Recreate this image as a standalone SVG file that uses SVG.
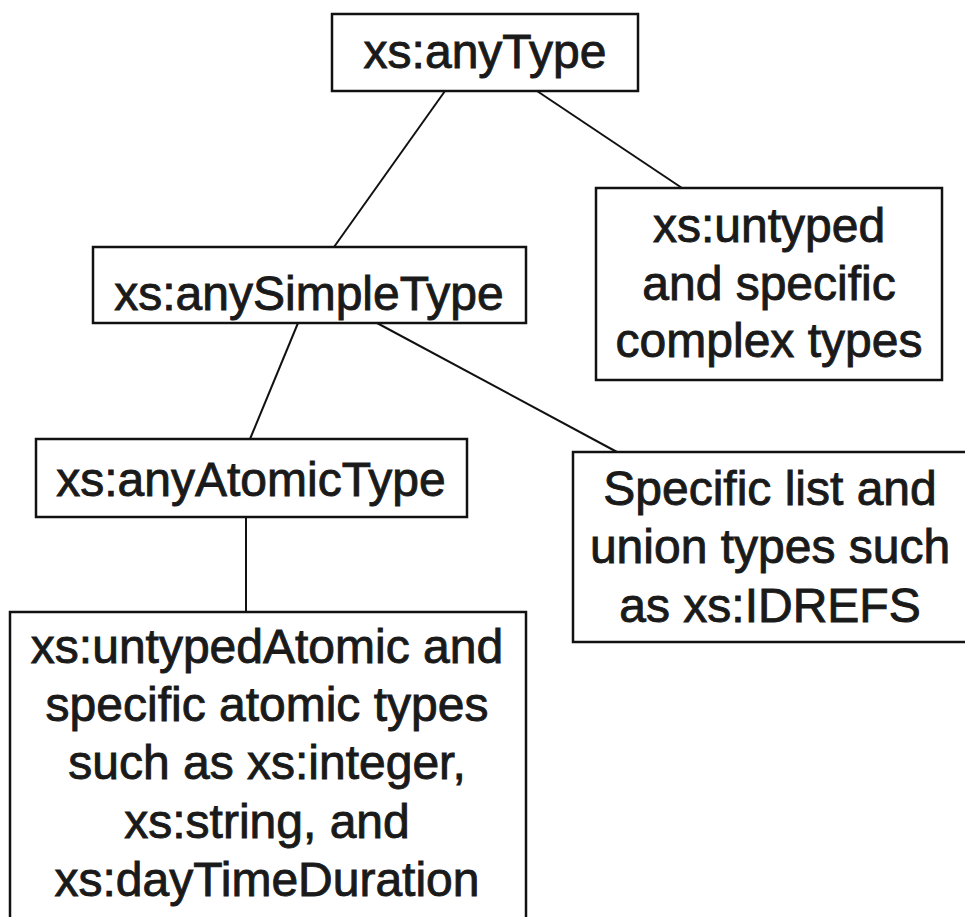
<svg xmlns="http://www.w3.org/2000/svg" width="965" height="917" viewBox="0 0 965 917">
<style>
.box{fill:#fff;stroke:#111;stroke-width:2.5}
.lbl{font-family:"Liberation Sans",Arial,sans-serif;font-size:48px;fill:#1a1a1a;stroke:#1a1a1a;stroke-width:0.9;text-anchor:middle}
.edge{stroke:#111;stroke-width:2;fill:none}
</style>
<rect width="965" height="917" fill="#fff"/>
<g id="connectors">
<line class="edge" x1="445" y1="91" x2="334" y2="247"/>
<line class="edge" x1="537" y1="91" x2="682" y2="188"/>
<line class="edge" x1="298" y1="323" x2="250" y2="439"/>
<line class="edge" x1="377" y1="323" x2="617" y2="452"/>
<line class="edge" x1="246" y1="517" x2="246" y2="612"/>
</g>
<g id="anyType">
<rect class="box" x="332" y="14" width="306" height="77"/>
<text class="lbl" x="485" y="68">xs:anyType</text>
</g>
<g id="untyped">
<rect class="box" x="596" y="188" width="346" height="192"/>
<text class="lbl" x="769" y="242">xs:untyped</text>
<text class="lbl" x="769" y="300">and specific</text>
<text class="lbl" x="769" y="357">complex types</text>
</g>
<g id="anySimpleType">
<rect class="box" x="93" y="247" width="433" height="76"/>
<text class="lbl" x="309" y="310">xs:anySimpleType</text>
</g>
<g id="anyAtomicType">
<rect class="box" x="36" y="439" width="431" height="78"/>
<text class="lbl" x="251" y="496">xs:anyAtomicType</text>
</g>
<g id="listUnion">
<rect class="box" x="573" y="452" width="400" height="190"/>
<text class="lbl" x="770" y="505">Specific list and</text>
<text class="lbl" x="770" y="563">union types such</text>
<text class="lbl" x="770" y="622">as xs:IDREFS</text>
</g>
<g id="atomicTypes">
<rect class="box" x="10" y="612" width="516" height="320"/>
<text class="lbl" x="267" y="663">xs:untypedAtomic and</text>
<text class="lbl" x="267" y="721">specific atomic types</text>
<text class="lbl" x="267" y="779">such as xs:integer,</text>
<text class="lbl" x="267" y="838">xs:string, and</text>
<text class="lbl" x="267" y="896">xs:dayTimeDuration</text>
</g>
</svg>
